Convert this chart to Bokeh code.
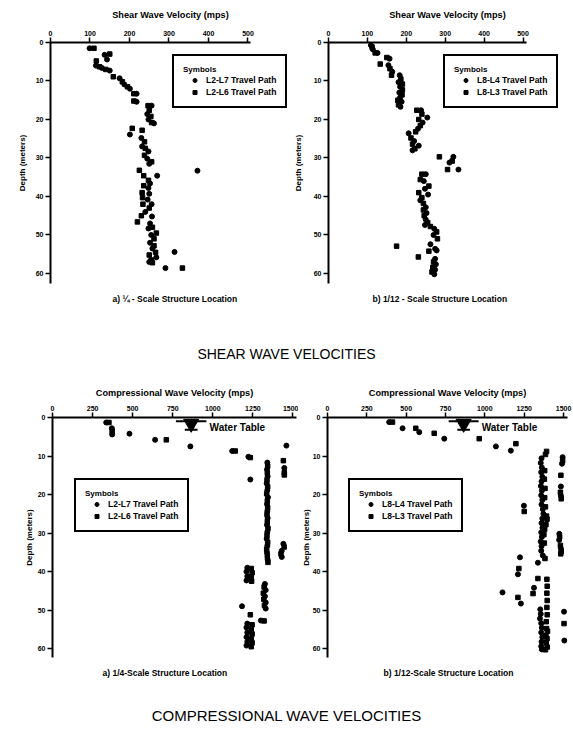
from bokeh.plotting import figure
from bokeh.models import Range1d, FixedTicker, Legend, LegendItem, Title, Div
from bokeh.layouts import column, row
from bokeh.embed import file_html
from bokeh.resources import INLINE
from bokeh.core.properties import value

FONT = "Liberation Sans"

# ---------------- DATA ----------------
shear_ticks = [0, 100, 200, 300, 400, 500]
comp_ticks = [0, 250, 500, 750, 1000, 1250, 1500]
depth_ticks = [0, 10, 20, 30, 40, 50, 60]

# (velocity mps, depth m)
p1_l2l7 = [(99,1.5),(137,3.2),(143,4.4),(115,6.0),(130,6.6),(150,7.3),(175,9.3),(187,10.9),(201,12.0),
           (218,13.3),(218,15.4),(256,16.4),(245,18.6),(248,20.0),(262,21.0),(201,23.9),(230,24.8),
           (232,27.0),(248,28.3),(245,30.2),(250,31.5),(372,33.3),(270,34.6),(252,36.6),(248,37.8),
           (250,39.3),(246,40.8),(256,42.0),(240,44.0),(257,45.2),(252,47.0),(248,48.3),(255,50.0),
           (252,52.0),(258,53.5),(314,54.4),(268,55.8),(250,57.0),(291,58.6)]
p1_l2l6 = [(110,1.5),(150,3.0),(116,4.8),(124,6.3),(140,7.0),(159,8.9),(182,10.2),(195,11.5),(211,13.3),
           (211,15.2),(247,16.4),(250,17.6),(254,19.2),(256,20.8),(207,22.3),(232,22.8),(238,25.8),
           (240,27.5),(238,29.3),(256,31.0),(225,33.2),(236,34.6),(248,35.8),(236,37.2),(232,39.0),
           (233,40.3),(234,42.0),(250,43.0),(230,45.0),(220,46.6),(258,48.0),(268,49.5),(262,51.0),
           (262,52.8),(266,54.5),(250,55.2),(255,56.5),(258,57.2),(334,58.6)]

p2_l8l4 = [(109,0.7),(114,1.8),(126,2.7),(157,4.2),(154,5.9),(164,7.6),(183,8.5),(180,10.3),(184,11.5),
           (182,13.0),(184,14.3),(188,15.4),(185,16.7),(238,17.6),(254,19.5),(242,20.8),(230,22.4),
           (206,23.6),(220,25.6),(232,26.8),(216,28.0),(321,29.7),(311,31.2),(334,33.0),(250,34.2),
           (245,36.0),(248,38.0),(256,39.5),(236,41.0),(250,42.8),(252,44.3),(250,46.0),(248,47.4),
           (272,48.4),(270,50.0),(262,52.4),(274,53.6),(278,54.0),(274,56.2),(276,57.6),(274,59.0),(272,60.2)]
p2_l8l3 = [(112,1.2),(120,2.7),(150,3.9),(133,5.6),(158,6.8),(162,8.5),(186,9.5),(190,10.8),(190,12.3),
           (189,13.6),(178,15.0),(180,16.2),(227,17.6),(240,18.6),(232,20.0),(236,21.6),(224,23.2),
           (212,24.8),(216,26.4),(222,27.6),(285,29.7),(318,30.8),(306,33.0),(240,34.2),(236,35.6),
           (258,37.3),(232,39.0),(240,40.3),(244,41.8),(244,43.5),(246,45.0),(255,46.8),(262,47.8),
           (278,49.2),(280,51.0),(175,52.9),(258,54.2),(231,55.7),(270,57.0),(268,58.4),(266,59.6)]

p3_l2l7 = [(335,1.3),(370,2.8),(372,4.4),(480,4.2),(640,5.8),(860,7.5),(1121,8.7),(1222,10.2),(1459,7.3),
           (1446,13.1),(1234,16.1),(1340,11.7),(1338,13.5),(1342,15.3),(1336,17.1),(1340,18.9),
           (1344,20.7),(1338,22.5),(1340,24.3),(1342,26.1),(1338,27.9),(1340,29.7),(1336,31.5),
           (1340,33.3),(1338,35.1),(1342,36.9),(1440,32.8),(1430,34.6),(1430,36.2),(1215,39.0),
           (1210,40.0),(1215,41.2),(1210,42.3),(1325,43.2),(1330,44.8),(1325,46.4),(1330,48.0),
           (1330,49.6),(1300,52.7),(1182,49.0),(1215,53.5),(1210,54.5),(1215,55.8),(1210,57.0),
           (1215,58.2),(1210,59.2)]
p3_l2l6 = [(352,1.3),(372,3.5),(710,5.8),(1140,8.7),(1234,10.4),(1440,11.2),(1446,14.3),(1446,14.9),
           (1342,12.6),(1340,14.4),(1338,16.2),(1342,18.0),(1336,19.8),(1340,21.6),(1342,23.4),
           (1338,25.2),(1340,27.0),(1344,28.8),(1338,30.6),(1342,32.4),(1336,34.2),(1340,36.0),
           (1344,37.6),(1445,33.6),(1425,35.4),(1240,39.2),(1245,40.3),(1240,41.4),(1242,42.5),
           (1320,44.0),(1315,45.6),(1318,47.2),(1322,48.8),(1320,52.8),(1234,51.2),(1245,53.8),
           (1240,55.0),(1245,56.2),(1240,57.5),(1245,58.5),(1240,59.5)]

p4_l8l4 = [(392,1.2),(477,2.8),(583,3.8),(742,5.5),(1070,7.5),(1165,8.6),(1248,22.9),(1223,36.3),
           (1210,40.7),(1112,45.4),(1229,48.3),(1337,37.7),(1312,44.2),
           (1360,10.6),(1355,11.8),(1362,13.0),(1358,14.2),(1365,15.4),(1360,16.6),(1356,17.8),
           (1362,19.0),(1358,20.2),(1365,21.4),(1360,22.6),(1368,23.8),(1372,25.0),(1365,26.2),
           (1360,27.4),(1366,28.6),(1358,29.8),(1362,31.0),(1355,32.2),(1360,33.4),(1358,34.6),
           (1368,35.8),(1352,49.8),(1355,51.0),(1350,52.2),(1358,53.4),(1362,54.6),(1358,55.8),
           (1365,57.0),(1360,58.2),(1358,59.4),(1362,60.2),
           (1494,10.3),(1490,12.0),(1483,17.9),(1483,20.3),(1473,30.2),(1472,31.8),(1483,34.0),
           (1503,50.4),(1505,57.9)]
p4_l8l3 = [(413,1.2),(561,2.8),(678,4.1),(964,5.5),(1197,6.8),(1392,8.8),(1250,24.4),(1216,39.2),
           (1210,46.7),(1306,45.7),(1337,41.8),
           (1385,9.6),(1380,13.8),(1378,16.0),(1382,18.4),(1380,20.8),(1385,23.2),(1392,25.6),
           (1395,26.4),(1388,27.8),(1380,29.0),(1375,30.4),(1378,32.6),(1382,36.6),(1394,42.0),
           (1396,43.8),(1394,45.6),(1396,47.5),(1394,49.3),(1396,51.2),(1390,53.0),(1392,54.8),
           (1398,55.5),(1388,56.6),(1395,57.4),(1390,58.5),(1396,59.6),(1385,60.3),
           (1494,11.2),(1483,15.0),(1480,19.4),(1485,21.1),(1475,31.0),(1480,33.2),(1485,34.8),
           (1482,35.4),(1503,53.5)]

water_table_vel = 865
water_table_depth = 1.6


def make_panel(width, height, bl, bt, fw, fh, xmax, xbound, ymax, xticks, xlabel, ylabel_standoff,
               xlabel_standoff, caption, cap_offset, s1, s2, names, leg_loc, water=False):
    p = figure(width=width, height=height, frame_width=fw, frame_height=fh,
               output_backend="svg", toolbar_location=None,
               x_range=Range1d(0, xmax), y_range=Range1d(ymax, 0),
               x_axis_location="above",
               min_border_left=bl, min_border_top=bt,
               min_border_right=width - bl - fw, min_border_bottom=height - bt - fh)
    p.outline_line_color = None
    p.grid.visible = False
    p.background_fill_color = "white"
    for ax in (p.xaxis[0], p.yaxis[0]):
        ax.axis_line_width = 2
        ax.axis_line_color = "black"
        ax.major_tick_line_width = 1.5
        ax.major_tick_line_color = "black"
        ax.major_tick_in = 0
        ax.major_tick_out = 5
        ax.minor_tick_line_color = None
        ax.major_label_text_font = FONT
        ax.major_label_text_font_style = "bold"
        ax.major_label_text_font_size = "7px"
        ax.major_label_text_color = "black"
        ax.axis_label_text_font = FONT
        ax.axis_label_text_font_style = "bold"
        ax.axis_label_text_color = "black"
    p.xaxis.bounds = (0, xbound)
    p.xaxis.ticker = FixedTicker(ticks=xticks)
    p.yaxis.ticker = FixedTicker(ticks=depth_ticks)
    p.xaxis.axis_label = xlabel
    p.xaxis.axis_label_text_font_size = "9.2px"
    p.xaxis.major_label_standoff = 2
    p.xaxis.axis_label_standoff = xlabel_standoff
    p.yaxis.axis_label = "Depth (meters)"
    p.yaxis.axis_label_text_font_size = "8px"
    p.yaxis.major_label_standoff = 2
    p.yaxis.axis_label_standoff = ylabel_standoff

    r1 = p.scatter([v for v, d in s1], [d for v, d in s1], marker="circle", size=5,
                   color="black")
    r2 = p.scatter([v for v, d in s2], [d for v, d in s2], marker="square", size=4.5,
                   color="black")

    if water:
        p.segment(x0=[water_table_vel - 95], x1=[water_table_vel + 95],
                  y0=[1.0], y1=[1.0], line_color="black", line_width=2)
        p.segment(x0=[water_table_vel - 40], x1=[water_table_vel + 40],
                  y0=[3.2], y1=[3.2], line_color="black", line_width=2)
        p.scatter([water_table_vel], [water_table_depth], marker="inverted_triangle",
                  size=15, color="black")
        p.text([water_table_vel + 115], [2.6], text=["Water Table"],
               text_font=value(FONT), text_font_style="bold", text_font_size="10px",
               text_baseline="middle", text_align="left", text_color="black")

    leg = Legend(items=[LegendItem(label=names[0], renderers=[r1]),
                        LegendItem(label=names[1], renderers=[r2])],
                 title="Symbols", location=leg_loc, margin=0,
                 border_line_color="black", border_line_width=2, border_line_alpha=1.0,
                 padding=9, spacing=2, glyph_width=23, glyph_height=10,
                 label_height=10, label_standoff=0, title_standoff=1,
                 label_text_font=FONT, label_text_font_style="bold",
                 label_text_font_size="8.5px", label_text_color="black",
                 title_text_font=FONT, title_text_color="black",
                 title_text_font_style="bold", title_text_font_size="8px",
                 background_fill_color="white", background_fill_alpha=1.0)
    p.add_layout(leg)

    cap = Title(text=caption, align="left", offset=cap_offset, vertical_align="top",
                standoff=20, text_font=FONT, text_font_style="bold",
                text_font_size="8.5px", text_color="black")
    p.add_layout(cap, "below")
    return p


p1 = make_panel(290, 315, 50, 42, 240, 241, 607.6, 506, 62.6, shear_ticks,
                "Shear Wave Velocity (mps)", 6, 8, "a) \u00bc - Scale Structure Location", 62,
                p1_l2l7, p1_l2l6, ["L2-L7 Travel Path", "L2-L6 Travel Path"], (122, 175))
p2 = make_panel(283, 315, 38, 42, 238, 241, 611.8, 509, 62.6, shear_ticks,
                "Shear Wave Velocity (mps)", 8, 8, "b) 1/12 - Scale Structure Location", 44,
                p2_l8l4, p2_l8l3, ["L8-L4 Travel Path", "L8-L3 Travel Path"], (115, 175))
p3 = make_panel(298, 315, 52, 42, 244, 240, 1522, 1522, 62.3, comp_ticks,
                "Compressional Wave Velocity (mps)", 1, 5, "a) 1/4-Scale Structure Location", 50,
                p3_l2l7, p3_l2l6, ["L2-L7 Travel Path", "L2-L6 Travel Path"], (22, 125), water=True)
p4 = make_panel(275, 315, 29, 42, 240, 240, 1525, 1525, 62.3, comp_ticks,
                "Compressional Wave Velocity (mps)", -1, 5, "b) 1/12-Scale Structure Location", 56,
                p4_l8l4, p4_l8l3, ["L8-L4 Travel Path", "L8-L3 Travel Path"], (21, 125), water=True)

title_style = "width:573px;text-align:center;font-family:'Liberation Sans';color:#000;"
d1 = Div(text=f"<div style=\"{title_style}font-size:14px;padding-top:29px\">SHEAR WAVE VELOCITIES</div>",
         width=573, height=60, margin=0)
d2 = Div(text=f"<div style=\"{title_style}font-size:15px;padding-top:15px\">COMPRESSIONAL WAVE VELOCITIES</div>",
         width=573, height=51, margin=0)

layout = column(row(p1, p2, spacing=0), d1, row(p3, p4, spacing=0), d2, spacing=0)

open("out.html", "w").write(file_html(layout, INLINE))
